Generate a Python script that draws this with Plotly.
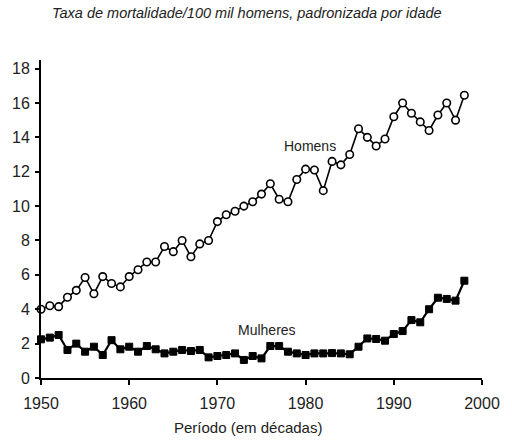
import plotly.graph_objects as go

# Anos (1950-1998)
anos = list(range(1950, 1999))

# Taxa de mortalidade por 100 mil, padronizada por idade
homens = [4.0, 4.2, 4.15, 4.7, 5.1, 5.85, 4.9, 5.9, 5.5, 5.3,
          5.9, 6.3, 6.75, 6.75, 7.65, 7.35, 8.0, 7.05, 7.8, 8.0,
          9.1, 9.5, 9.7, 10.0, 10.25, 10.7, 11.3, 10.4, 10.25, 11.55,
          12.15, 12.1, 10.9, 12.6, 12.4, 13.0, 14.5, 14.0, 13.5, 13.9,
          15.2, 16.0, 15.4, 14.9, 14.4, 15.3, 16.0, 15.0, 16.45]

mulheres = [2.25, 2.35, 2.5, 1.63, 2.0, 1.53, 1.82, 1.34, 2.2, 1.67,
            1.82, 1.53, 1.86, 1.67, 1.43, 1.53, 1.63, 1.57, 1.63, 1.2,
            1.28, 1.34, 1.43, 1.05, 1.28, 1.14, 1.86, 1.86, 1.53, 1.43,
            1.34, 1.43, 1.43, 1.45, 1.43, 1.38, 1.82, 2.3, 2.27, 2.17,
            2.56, 2.73, 3.37, 3.24, 4.0, 4.67, 4.6, 4.5, 5.66]

x_ticks = [1950, 1960, 1970, 1980, 1990, 2000]
y_ticks = [0, 2, 4, 6, 8, 10, 12, 14, 16, 18]

FONT = "Liberation Sans, Arial, sans-serif"
INK = "#222"

fig = go.Figure()

fig.add_trace(go.Scatter(
    x=anos, y=homens, mode="lines+markers", name="Homens",
    line=dict(color="black", width=1.6),
    marker=dict(symbol="circle", size=7.5, color="white",
                line=dict(color="black", width=1.6)),
    cliponaxis=False,
))

fig.add_trace(go.Scatter(
    x=anos, y=mulheres, mode="lines+markers", name="Mulheres",
    line=dict(color="black", width=2.2),
    marker=dict(symbol="square", size=7, color="black",
                line=dict(color="black", width=1)),
    cliponaxis=False,
))

# Rótulos das séries
fig.add_annotation(x=1980.5, y=13.5, text="Homens", showarrow=False,
                   font=dict(family=FONT, size=14, color=INK))
fig.add_annotation(x=1975.6, y=2.8, text="Mulheres", showarrow=False,
                   font=dict(family=FONT, size=14, color=INK))

# Título do eixo x
fig.add_annotation(x=0.47, xref="paper", y=-0.155, yref="paper",
                   yanchor="middle", text="Período (em décadas)",
                   showarrow=False, font=dict(family=FONT, size=15, color=INK))

fig.update_layout(
    width=512, height=447,
    margin=dict(l=41, r=27, t=60, b=69),
    paper_bgcolor="white", plot_bgcolor="white",
    showlegend=False,
    font=dict(family=FONT, size=15, color=INK),
    title=dict(
        text="<i>Taxa de mortalidade/100 mil homens, padronizada por idade</i>",
        x=0.482, xanchor="center", y=0.971, yanchor="middle",
        font=dict(family=FONT, size=14.5, color=INK),
    ),
    xaxis=dict(
        range=[1950, 2000], tickvals=x_ticks, ticktext=[str(v) for v in x_ticks],
        showgrid=False, zeroline=False,
        showline=True, linecolor="black", linewidth=2,
        ticks="outside", ticklen=5, tickwidth=1.5, tickcolor="black",
        ticklabelstandoff=5,
        tickfont=dict(family=FONT, size=16, color=INK),
    ),
    yaxis=dict(
        range=[0, 18.5], tickvals=y_ticks,
        showgrid=False, zeroline=False,
        showline=True, linecolor="black", linewidth=2,
        ticks="outside", ticklen=4, tickwidth=1.5, tickcolor="black",
        ticklabelstandoff=2,
        tickfont=dict(family=FONT, size=16, color=INK),
    ),
)

fig.write_html("out.html")
